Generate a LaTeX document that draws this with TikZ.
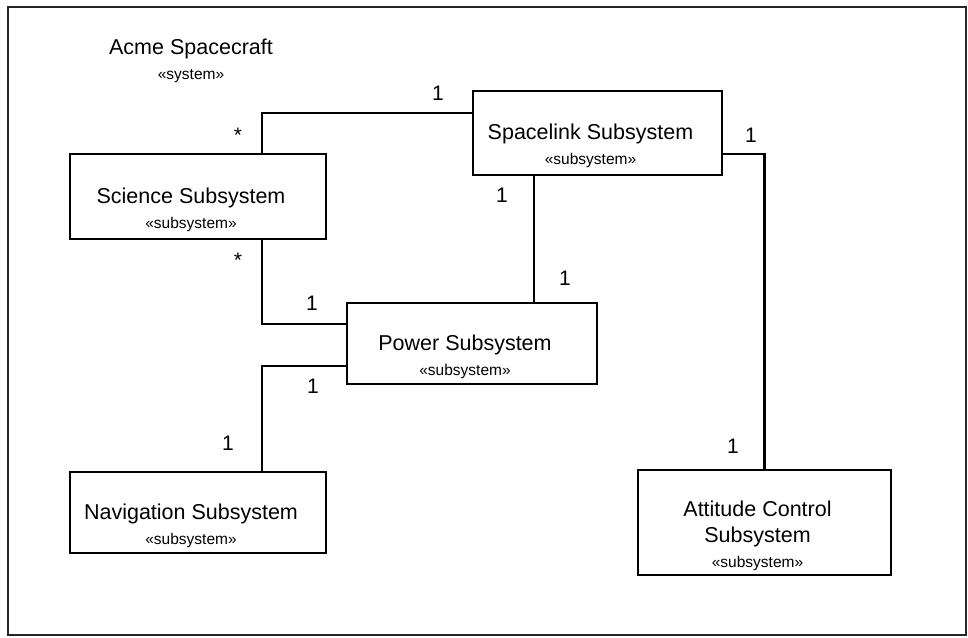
\documentclass[tikz,border=0pt]{standalone}
\usepackage{fontspec}
\setmainfont{Liberation Sans}
\usepackage{tikz}
\usetikzlibrary{positioning}
\newcommand{\stereo}[1]{\\[-1pt]{\fontsize{15.5}{17}\selectfont «#1»}}
% name and stereotype, set a little low and left in the box
\newcommand{\umlname}[2]{\begin{tabular}{@{}c@{}}\rule{0pt}{46pt}#1\stereo{#2}\end{tabular}\rule{14pt}{0pt}}
\tikzset{
  subsys/.style={rectangle, draw, line width=2.8pt, inner sep=0pt, font=\fontsize{21.5}{26}\selectfont},
  mult/.style={font=\fontsize{21}{25}\selectfont, inner sep=1pt},
  link/.style={line width=2.8pt},
  frame/.style={draw=black!85, line width=2pt},
}
\begin{document}
\begin{tikzpicture}[x=1pt, y=-1pt]
  \useasboundingbox (0,0) rectangle (968,637);
  % System frame
  \draw[frame] (8,7) rectangle (966,635);
  \node[align=center, font=\fontsize{21.5}{26}\selectfont] (acme) at (191,61) {Acme Spacecraft\stereo{system}};

  % Subsystems
  \node[subsys, minimum width=256pt, minimum height=85pt] (science) at (198,196.5) {\umlname{Science Subsystem}{subsystem}};
  \node[subsys, minimum width=249pt, minimum height=84pt] (spacelink) at (597.5,133) {\umlname{Spacelink Subsystem}{subsystem}};
  \node[subsys, minimum width=250pt, minimum height=81pt] (power) at (472,343.5) {\umlname{Power Subsystem}{subsystem}};
  \node[subsys, minimum width=256pt, minimum height=81pt] (navigation) at (198,512.5) {\umlname{Navigation Subsystem}{subsystem}};
  \node[subsys, minimum width=253pt, minimum height=105pt] (attitude) at (764.5,522.5) {\umlname{Attitude Control\\Subsystem}{subsystem}};

  % Associations
  \draw[link] ([xshift=64pt]science.north) |- ([yshift=20pt]spacelink.west);
  \draw[link] ([xshift=64pt]science.south) |- ([yshift=19.5pt]power.west);
  \draw[link] ([yshift=-22.5pt]power.west) -| ([xshift=64pt]navigation.north);
  \draw[link] ([xshift=-63.5pt]spacelink.south) -- ([xshift=-63.5pt]spacelink.south |- power.north);
  \draw[link] ([yshift=-21pt]spacelink.east) -| (attitude.north);

  % Multiplicities
  \node[mult] (m-sci-up) at (238,135) {*};
  \node[mult] (m-link-left) at (438,93) {1};
  \node[mult] (m-sci-down) at (238,260) {*};
  \node[mult] (m-pow-sci) at (312,303) {1};
  \node[mult] (m-link-down) at (502,195) {1};
  \node[mult] (m-pow-link) at (565,278) {1};
  \node[mult] (m-link-right) at (751,135) {1};
  \node[mult] (m-att) at (733,446) {1};
  \node[mult] (m-pow-nav) at (313,386) {1};
  \node[mult] (m-nav) at (228,443) {1};
\end{tikzpicture}
\end{document}
